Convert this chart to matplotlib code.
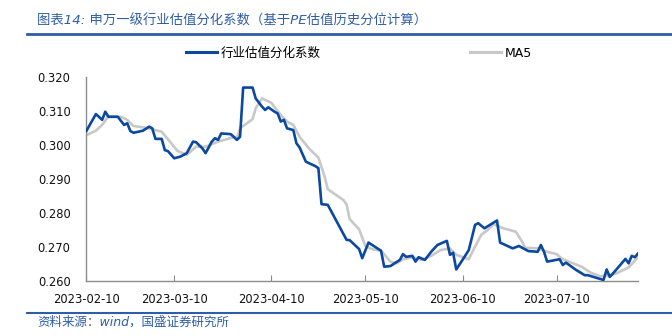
import pandas as pd
import matplotlib
matplotlib.use("Agg")
import matplotlib.pyplot as plt
import matplotlib.dates as mdates
from matplotlib.lines import Line2D

plt.rcParams['font.family'] = ['DejaVu Sans', 'Noto Sans CJK SC']

# 行业估值分化系数 (daily, turning points)
disp_dates = [
    '2023-02-10', '2023-02-13', '2023-02-15', '2023-02-16', '2023-02-17', '2023-02-20',
    '2023-02-22', '2023-02-23', '2023-02-24', '2023-02-25', '2023-02-28', '2023-03-02',
    '2023-03-03', '2023-03-04', '2023-03-06', '2023-03-07', '2023-03-08', '2023-03-10',
    '2023-03-12', '2023-03-14', '2023-03-16', '2023-03-17', '2023-03-19', '2023-03-20',
    '2023-03-22', '2023-03-23', '2023-03-24', '2023-03-25', '2023-03-28', '2023-03-29',
    '2023-03-30', '2023-03-31', '2023-04-01', '2023-04-04', '2023-04-05', '2023-04-07',
    '2023-04-08', '2023-04-09', '2023-04-11', '2023-04-12', '2023-04-13', '2023-04-14',
    '2023-04-15', '2023-04-17', '2023-04-18', '2023-04-19', '2023-04-21', '2023-04-24',
    '2023-04-25', '2023-04-26', '2023-04-28', '2023-05-04', '2023-05-05', '2023-05-08',
    '2023-05-09', '2023-05-11', '2023-05-13', '2023-05-15', '2023-05-16', '2023-05-18',
    '2023-05-19', '2023-05-21', '2023-05-22', '2023-05-23', '2023-05-25', '2023-05-26',
    '2023-05-27', '2023-05-29', '2023-05-31', '2023-06-02', '2023-06-05', '2023-06-06',
    '2023-06-07', '2023-06-08', '2023-06-10', '2023-06-12', '2023-06-14', '2023-06-15',
    '2023-06-17', '2023-06-21', '2023-06-22', '2023-06-26', '2023-06-28', '2023-07-01',
    '2023-07-04', '2023-07-05', '2023-07-06', '2023-07-07', '2023-07-11', '2023-07-12',
    '2023-07-13', '2023-07-16', '2023-07-19', '2023-07-20', '2023-07-25', '2023-07-26',
    '2023-07-27', '2023-07-28', '2023-08-01', '2023-08-02', '2023-08-03', '2023-08-04',
    '2023-08-05',
]
disp_values = [
    0.3042, 0.3091, 0.3074, 0.3098, 0.3083, 0.3083,
    0.3059, 0.3064, 0.3041, 0.3036, 0.3042, 0.3054,
    0.3049, 0.3018, 0.3018, 0.2985, 0.2982, 0.2961,
    0.2966, 0.2976, 0.3010, 0.3008, 0.2990, 0.2976,
    0.3010, 0.3020, 0.3015, 0.3034, 0.3032, 0.3024,
    0.3015, 0.3024, 0.3169, 0.3169, 0.3137, 0.3113,
    0.3103, 0.3111, 0.3098, 0.3093, 0.3069, 0.3074,
    0.3049, 0.3044, 0.3005, 0.2993, 0.2951, 0.2938,
    0.2932, 0.2826, 0.2824, 0.2721, 0.2720, 0.2694,
    0.2667, 0.2713, 0.2701, 0.2689, 0.2642, 0.2644,
    0.2650, 0.2662, 0.2679, 0.2671, 0.2674, 0.2657,
    0.2670, 0.2662, 0.2686, 0.2706, 0.2718, 0.2677,
    0.2683, 0.2634, 0.2662, 0.2691, 0.2765, 0.2770,
    0.2755, 0.2778, 0.2713, 0.2696, 0.2703, 0.2688,
    0.2686, 0.2706, 0.2686, 0.2657, 0.2664, 0.2647,
    0.2654, 0.2634, 0.2617, 0.2617, 0.2603, 0.2634,
    0.2612, 0.2622, 0.2665, 0.2652, 0.2674, 0.2670,
    0.2681,
]

# MA5
ma_dates = [
    '2023-02-10', '2023-02-13', '2023-02-15', '2023-02-17', '2023-02-21', '2023-02-23',
    '2023-02-25', '2023-03-02', '2023-03-06', '2023-03-08', '2023-03-11', '2023-03-14',
    '2023-03-17', '2023-03-20', '2023-03-24', '2023-03-29', '2023-03-30', '2023-03-31',
    '2023-04-04', '2023-04-05', '2023-04-07', '2023-04-10', '2023-04-13', '2023-04-15',
    '2023-04-17', '2023-04-19', '2023-04-22', '2023-04-25', '2023-04-27', '2023-04-28',
    '2023-05-03', '2023-05-04', '2023-05-05', '2023-05-08', '2023-05-10', '2023-05-12',
    '2023-05-15', '2023-05-18', '2023-05-20', '2023-05-22', '2023-05-25', '2023-05-28',
    '2023-05-31', '2023-06-03', '2023-06-06', '2023-06-08', '2023-06-12', '2023-06-14',
    '2023-06-16', '2023-06-18', '2023-06-20', '2023-06-23', '2023-06-27', '2023-06-29',
    '2023-06-30', '2023-07-04', '2023-07-07', '2023-07-10', '2023-07-12', '2023-07-18',
    '2023-07-21', '2023-07-24', '2023-07-27', '2023-07-29', '2023-08-02', '2023-08-05',
]
ma_values = [
    0.3029, 0.3042, 0.3059, 0.3085, 0.3083, 0.3074,
    0.3056, 0.3049, 0.3039, 0.3017, 0.2983, 0.2971,
    0.2995, 0.2995, 0.3010, 0.3023, 0.3020, 0.3049,
    0.3076, 0.3108, 0.3137, 0.3124, 0.3088, 0.3069,
    0.3059, 0.3024, 0.2990, 0.2963, 0.2907, 0.2870,
    0.2838, 0.2825, 0.2782, 0.2752, 0.2703, 0.2694,
    0.2689, 0.2657, 0.2652, 0.2664, 0.2670, 0.2662,
    0.2674, 0.2691, 0.2696, 0.2677, 0.2664, 0.2701,
    0.2736, 0.2750, 0.2767, 0.2755, 0.2745, 0.2716,
    0.2698, 0.2696, 0.2686, 0.2679, 0.2664, 0.2642,
    0.2624, 0.2614, 0.2617, 0.2622, 0.2640, 0.2670,
]

tick_dates = ['2023-02-10', '2023-03-10', '2023-04-10', '2023-05-10', '2023-06-10', '2023-07-10']
y_ticks = [0.260, 0.270, 0.280, 0.290, 0.300, 0.310, 0.320]

title = '图表14: 申万一级行业估值分化系数（基于PE估值历史分位计算）'
source = '资料来源：wind，国盛证券研究所'
names = ['行业估值分化系数', 'MA5']

blue = '#0B48A0'
grey = '#C8C8C8'
accent = '#2F5DA8'

d1 = pd.to_datetime(disp_dates)
d2 = pd.to_datetime(ma_dates)

fig = plt.figure(figsize=(6.72, 3.36), dpi=100)
ax = fig.add_axes([0.1287, 0.1637, 0.8207, 0.6071])

ax.plot(d1, disp_values, color=blue, lw=1.9, zorder=3, solid_joinstyle='round')
ax.plot(d2, ma_values, color=grey, lw=1.9, zorder=2, solid_joinstyle='round')

ax.set_ylim(0.260, 0.320)
ax.set_yticks(y_ticks)
ax.yaxis.set_major_formatter(plt.FuncFormatter(lambda v, p: f'{v:.3f}'))
ax.set_xlim(d1[0], d1[-1])
ax.set_xticks(pd.to_datetime(tick_dates))
ax.xaxis.set_major_formatter(mdates.DateFormatter('%Y-%m-%d'))

for s in ['top', 'right']:
    ax.spines[s].set_visible(False)
for s in ['left', 'bottom']:
    ax.spines[s].set_color('#8C8C8C')
    ax.spines[s].set_linewidth(1.0)
ax.tick_params(axis='y', length=0, pad=11.5, labelsize=8.3, labelcolor='#111111')
ax.tick_params(axis='x', direction='in', length=4, color='#8C8C8C', pad=9,
               labelsize=8.3, labelcolor='#111111')

handles = [Line2D([], [], color=blue, lw=2.2), Line2D([], [], color=grey, lw=2.2)]
fig.legend(handles, names, loc='center left', bbox_to_anchor=(0.277, 0.842),
           ncol=2, frameon=False, fontsize=9, handlelength=2.5, handletextpad=0.3,
           columnspacing=11.9, borderpad=0, borderaxespad=0)

# header / footer text and rules
fig.text(0.055, 0.937, title, color=accent, fontsize=9.6, style='italic',
         va='center', ha='left')
fig.add_artist(Line2D([0.040, 0.998], [0.898, 0.898], color=accent, lw=2.0))
fig.add_artist(Line2D([0.040, 0.998], [0.068, 0.068], color=accent, lw=1.5))
fig.text(0.055, 0.040, source, color=accent, fontsize=9, style='italic',
         va='center', ha='left')

fig.savefig('out.png', dpi=100)
